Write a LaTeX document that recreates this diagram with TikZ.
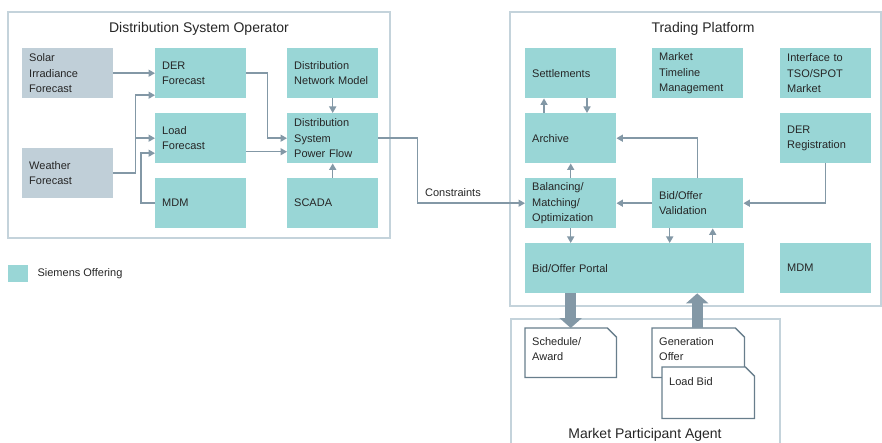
\documentclass[tikz,border=0pt]{standalone}
\usepackage{fontspec}
\setmainfont{Liberation Sans}
\usetikzlibrary{arrows.meta,calc}
\definecolor{offer}{HTML}{99D6D6}
\definecolor{extsrc}{HTML}{C0CFD8}
\definecolor{frameline}{HTML}{C4D3DB}
\definecolor{flow}{HTML}{8398A6}
\definecolor{docedge}{HTML}{687E8C}
\definecolor{ink}{HTML}{262626}
\begin{document}
\begin{tikzpicture}[x=1pt,y=-1pt,
  every node/.style={text=ink, font=\fontsize{11}{15.5}\selectfont},
  blk/.style={anchor=north west, minimum width=91pt, minimum height=50pt,
    inner xsep=7pt, inner ysep=0pt, text width=77pt, align=left, fill=offer},
  ext/.style={blk, fill=extsrc},
  wide/.style={blk, minimum width=219pt, text width=205pt},
  frame/.style={draw=frameline, line width=1.5pt},
  title/.style={font=\fontsize{14}{16}\selectfont},
  arr/.style={draw=flow, line width=1.5pt, -{Triangle[length=6.5pt,width=7pt]}},
  fat/.style={draw=flow, line width=11pt, -{Triangle[length=10pt,width=22pt]}},
  docbox/.style={anchor=north west, minimum width=91pt, minimum height=49pt, inner sep=0pt},
  docline/.style={draw=docedge, fill=white, line width=1.3pt, line join=miter},
  doctext/.style={anchor=north west, inner sep=0pt, align=left},
]
\useasboundingbox (0,0) rectangle (882,443);

% ---------- frames ----------
\draw[frame] (8,12) rectangle (390,238);
\draw[frame] (510,12) rectangle (881,306);
\draw[frame] (511,445) -- (511,319) -- (780,319) -- (780,445);
\node[title] (tdso) at (199,29) {Distribution System Operator};
\node[title] (ttp) at (703,29) {Trading Platform};
\node[title] (tmpa) at (645,435) {Market Participant Agent};

% ---------- distribution system operator ----------
\node[ext] (solar) at (22,48) {Solar\\Irradiance\\Forecast};
\node[ext] (weather) at (22,148) {Weather\\Forecast};
\node[blk] (der) at (155,48) {DER\\Forecast};
\node[blk] (load) at (155,113) {Load\\Forecast};
\node[blk] (mdm) at (155,178) {MDM};
\node[blk] (dnm) at (287,48) {Distribution\\Network Model};
\node[blk] (dspf) at (287,113) {Distribution\\System\\Power Flow};
\node[blk] (scada) at (287,178) {SCADA};

\draw[arr] (solar.east) -- (der.west);
\draw[arr] (weather.east) -- ++(22,0) coordinate (wj) |- ([yshift=-22pt]der.west);
\draw[arr] (wj) |- (load.west);
\draw[arr] (mdm.west) -- ++(-14,0) |- ([yshift=-15pt]load.west);
\draw[arr] (der.east) -- ++(21,0) |- (dspf.west);
\draw[arr] ([yshift=-13.5pt]load.east) -- ([yshift=-13.5pt]dspf.west);
\draw[arr] (dnm.south) -- (dspf.north);
\draw[arr] (scada.north) -- (dspf.south);

% ---------- trading platform ----------
\node[blk] (settle) at (525,48) {Settlements};
\node[blk] (mtm) at (652,48) {Market\\Timeline\\Management};
\node[blk] (iface) at (780,48) {Interface to\\TSO/SPOT\\Market};
\node[blk] (archive) at (525,113) {Archive};
\node[blk] (derreg) at (780,113) {DER\\Registration};
\node[blk] (bal) at (525,178) {Balancing/\\Matching/\\Optimization};
\node[blk] (val) at (652,178) {Bid/Offer\\Validation};
\node[wide] (portal) at (525,243) {Bid/Offer Portal};
\node[blk] (mdmtp) at (780,243) {MDM};

\draw[arr] (dspf.east) -- ++(39,0) |- (bal.west)
  node[pos=0.5, anchor=south west, inner sep=0pt, xshift=7pt, yshift=6pt] (constr) {Constraints};

\draw[arr] ([xshift=19pt]archive.north west) -- ([xshift=19pt]settle.south west);
\draw[arr] ([xshift=62pt]settle.south west) -- ([xshift=62pt]archive.north west);
\draw[arr] (bal.north) -- (archive.south);
\draw[arr] (val.north) |- (archive.east);
\draw[arr] (val.west) -- (bal.east);
\draw[arr] (derreg.south) |- (val.east);
\draw[arr] (bal.south) -- (bal.south |- portal.north);
\draw[arr] ([xshift=-28pt]val.south) -- ([xshift=-28pt]val.south |- portal.north);
\draw[arr] ([xshift=15pt]val.south |- portal.north) -- ([xshift=15pt]val.south);

% ---------- market participant documents ----------
\node[docbox] (sched) at (525,328) {};
\draw[docline] (sched.north west) -- ([xshift=-9pt]sched.north east)
  -- ([yshift=-9pt]sched.north east) -- (sched.south east) -- (sched.south west) -- cycle;
\node[doctext] (schedtxt) at ([xshift=7pt,yshift=-9pt]sched.north west) {Schedule/\\Award};

\node[docbox, minimum width=92pt] (gen) at (652,328) {};
\draw[docline] (gen.north west) -- ([xshift=-9pt]gen.north east)
  -- ([yshift=-9pt]gen.north east) -- (gen.south east) -- (gen.south west) -- cycle;
\node[doctext] (gentxt) at ([xshift=7pt,yshift=-9pt]gen.north west) {Generation\\Offer};

\node[docbox, minimum width=92pt, minimum height=51pt] (lbid) at (662,367) {};
\draw[docline] (lbid.north west) -- ([xshift=-9pt]lbid.north east)
  -- ([yshift=-9pt]lbid.north east) -- (lbid.south east) -- (lbid.south west) -- cycle;
\node[doctext] (lbidtxt) at ([xshift=7pt,yshift=-10pt]lbid.north west) {Load Bid};

\draw[fat] (sched.north |- portal.south) -- (sched.north);
\draw[fat] ([xshift=-1pt]gen.north) -- ([xshift=-1pt]gen.north |- portal.south);

% ---------- legend ----------
\node[fill=offer, anchor=north west, minimum width=20pt, minimum height=17pt, inner sep=0pt] (key) at (8,265) {};
\node[anchor=west, inner sep=0pt] (keytxt) at ([xshift=9pt]key.east) {Siemens Offering};
\end{tikzpicture}
\end{document}
